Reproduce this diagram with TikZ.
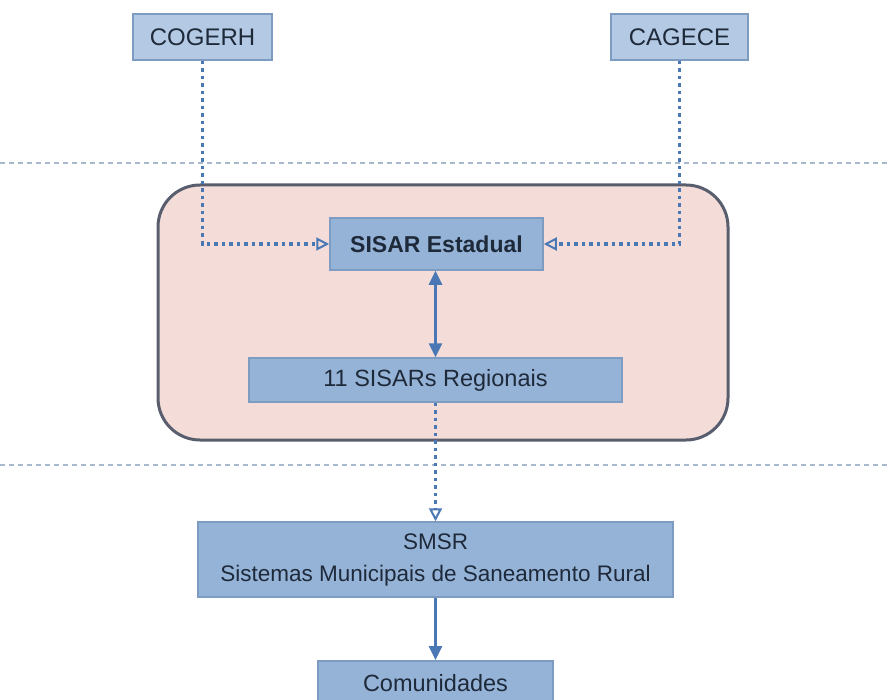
\documentclass[tikz,border=0pt]{standalone}
\usepackage{fontspec}
\setmainfont{Liberation Sans}
\usetikzlibrary{arrows.meta}
\definecolor{boxtop}{HTML}{B4CAE4}
\definecolor{boxmid}{HTML}{95B3D7}
\definecolor{boxedge}{HTML}{7E9BC2}
\definecolor{arrowc}{HTML}{4A78B5}
\definecolor{pinkfill}{HTML}{F4DDD8}
\definecolor{groupedge}{HTML}{585E6E}
\definecolor{sepline}{HTML}{A8B8CE}
\definecolor{txt}{HTML}{1E2A3A}
\begin{document}
\begin{tikzpicture}[x=1pt,y=-1pt,
  orgbox/.style={draw=boxedge,line width=1.5pt,fill=boxtop,text=txt,inner sep=0pt,font=\fontsize{24}{28}\selectfont},
  unitbox/.style={draw=boxedge,line width=1.5pt,fill=boxmid,text=txt,inner sep=0pt,font=\fontsize{23.5}{28}\selectfont},
  dotarrow/.style={draw=arrowc,line width=3.5pt,dash pattern=on 3.5pt off 4pt,-{Triangle[open,length=13pt,width=13pt,line width=2pt]}},
  solidarrow/.style={draw=arrowc,line width=3pt,-{Triangle[length=14pt,width=13pt]}},
  sep/.style={draw=sepline,line width=1.3pt,dash pattern=on 5pt off 4pt}]
\useasboundingbox (0,0) rectangle (890,700);
\fill[white] (0,0) rectangle (890,700);
% separators
\coordinate (s1l) at (0,163); \coordinate (s1r) at (890,163);
\coordinate (s2l) at (0,465); \coordinate (s2r) at (890,465);
\draw[sep] (s1l) -- (s1r);
\draw[sep] (s2l) -- (s2r);
% group
\node[draw=groupedge,line width=3pt,fill=pinkfill,rounded corners=42pt,minimum width=570pt,minimum height=255pt,inner sep=0pt] (grp) at (443,312.5) {};
% boxes
\node[orgbox,minimum width=139pt,minimum height=46pt] (cogerh) at (202.5,37) {COGERH};
\node[orgbox,minimum width=137pt,minimum height=46pt] (cagece) at (679.5,37) {CAGECE};
\node[unitbox,minimum width=213pt,minimum height=52pt,font=\fontsize{23}{28}\selectfont\bfseries] (est) at (436.5,244) {SISAR Estadual};
\node[unitbox,minimum width=373pt,minimum height=44pt] (reg) at (435.5,380) {11 SISARs Regionais};
\node[unitbox,minimum width=475pt,minimum height=75pt,align=center,font=\fontsize{22.5}{32}\selectfont] (smsr) at (435.5,559.5) {SMSR\\Sistemas Municipais de Saneamento Rural};
\node[unitbox,minimum width=235pt,minimum height=44pt,anchor=north] (com) at (435.5,660) {Comunidades};
% connectors
\draw[dotarrow] (cogerh.south) |- (est.west);
\draw[dotarrow] (cagece.south) |- (est.east);
\draw[draw=arrowc,line width=3pt,{Triangle[length=14pt,width=13pt]}-{Triangle[length=14pt,width=13pt]}] (est.south -| reg.north) -- (reg.north);
\draw[dotarrow] (reg.south) -- (smsr.north);
\draw[solidarrow] (smsr.south) -- (com.north);
\end{tikzpicture}
\end{document}
